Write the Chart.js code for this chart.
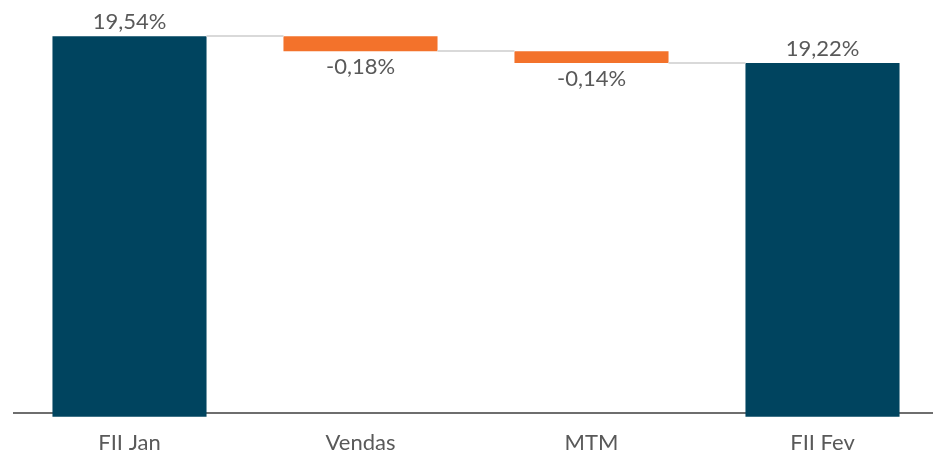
<!DOCTYPE html>
<html>
<head>
<meta charset="utf-8">
<script src="https://cdn.jsdelivr.net/npm/chart.js@4"></script>
<style>
  html, body { margin: 0; padding: 0; background: #ffffff; overflow: hidden; }
  #wrap { width: 933px; height: 456px; overflow: hidden; }
</style>
</head>
<body>
<div id="wrap"><canvas id="waterfallChart" width="938" height="456"></canvas></div>
<script>
// chart data
var categories = ['FII Jan', 'Vendas', 'MTM', 'FII Fev'];
var values = [19.54, -0.18, -0.14, 19.22];
var isTotal = [true, false, false, true];

var axisBase = 15;      // bars of totals start here
var yMin = 15.045;
var yMax = 19.9;

var navy = '#00445f';
var orange = '#f3722b';
var textGray = '#595959';

// build floating ranges for the waterfall
var ranges = [];
var running = 0;
values.forEach(function(v, i) {
    if (isTotal[i]) {
        ranges.push([axisBase, v]);
        running = v;
    } else {
        ranges.push([running, running + v]);
        running = running + v;
    }
});

function formatPct(v) {
    return v.toFixed(2).replace('.', ',') + '%';
}

// thin gray lines joining the bars
var connectorPlugin = {
    id: 'connectors',
    afterDatasetsDraw: function(chart) {
        var meta = chart.getDatasetMeta(0);
        var y = chart.scales.y;
        var ctx = chart.ctx;
        ctx.save();
        ctx.strokeStyle = '#d9d9d9';
        ctx.lineWidth = 2;
        for (var i = 0; i < meta.data.length - 1; i++) {
            var a = meta.data[i];
            var b = meta.data[i + 1];
            var level = ranges[i][1];
            var py = Math.round(y.getPixelForValue(level));
            ctx.beginPath();
            ctx.moveTo(a.x + a.width / 2, py);
            ctx.lineTo(b.x - b.width / 2, py);
            ctx.stroke();
        }
        ctx.restore();
    }
};

// value labels: above for totals, below for decreases
var valueLabelPlugin = {
    id: 'valueLabels',
    afterDatasetsDraw: function(chart) {
        var meta = chart.getDatasetMeta(0);
        var y = chart.scales.y;
        var ctx = chart.ctx;
        ctx.save();
        ctx.font = '22px Lato';
        ctx.fillStyle = textGray;
        ctx.textAlign = 'center';
        meta.data.forEach(function(bar, i) {
            var r = ranges[i];
            if (values[i] >= 0) {
                ctx.textBaseline = 'bottom';
                ctx.fillText(formatPct(values[i]), bar.x, y.getPixelForValue(Math.max(r[0], r[1])) - 3);
            } else {
                ctx.textBaseline = 'top';
                ctx.fillText(formatPct(values[i]), bar.x, y.getPixelForValue(Math.min(r[0], r[1])) + 5);
            }
        });
        ctx.restore();
    }
};

var ctx = document.getElementById('waterfallChart').getContext('2d');
var myChart = new Chart(ctx, {
    type: 'bar',
    data: {
        labels: categories,
        datasets: [{
            data: ranges,
            backgroundColor: values.map(function(v, i) { return isTotal[i] ? navy : orange; }),
            borderWidth: 0,
            borderSkipped: false,
            categoryPercentage: 1,
            barPercentage: 0.667,
            clip: false
        }]
    },
    options: {
        responsive: false,
        animation: false,
        layout: {
            padding: { left: 14, right: 0, top: 6, bottom: 0 }
        },
        plugins: {
            legend: { display: false },
            tooltip: { enabled: false }
        },
        scales: {
            x: {
                grid: { display: false, drawTicks: false },
                border: { display: true, color: '#6e6e6e', width: 2 },
                ticks: {
                    color: textGray,
                    font: { family: 'Lato', size: 22 },
                    padding: 17
                },
                afterFit: function(scale) { scale.height = 43; }
            },
            y: {
                display: false,
                min: yMin,
                max: yMax
            }
        }
    },
    plugins: [connectorPlugin, valueLabelPlugin]
});
</script>
</body>
</html>
